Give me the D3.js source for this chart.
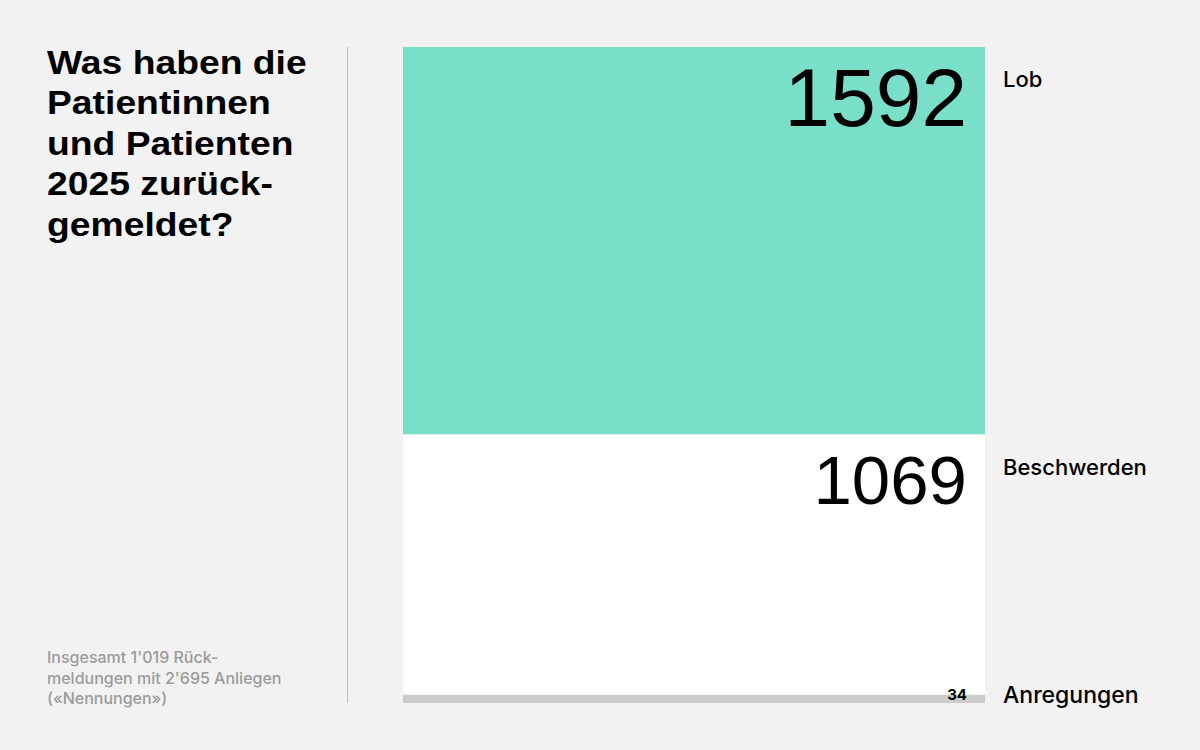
<!DOCTYPE html>
<html>
<head>
<meta charset="utf-8">
<script src="https://cdn.jsdelivr.net/npm/d3@7"></script>
<style>
  body { margin: 0; background: #f2f2f2; }
  svg { display: block; }
</style>
</head>
<body>
<div id="chart"></div>
<script>
// data
const categories = [ 'Lob', 'Beschwerden', 'Anregungen' ];
const values = [ 1592, 1069, 34 ];
const bar_colors = [ '#7adfc9', '#ffffff', '#cccccc' ];
const titleLines = [ 'Was haben die', 'Patientinnen', 'und Patienten', '2025 zurück-', 'gemeldet?' ];
const noteLines = [ 'Insgesamt 1\'019 Rück-', 'meldungen mit 2\'695 Anliegen', '(«Nennungen»)' ];

const figure_width = 1200, figure_height = 750;
const plot = { top: 47, bottom: 703, left: 403, right: 985 };
const textFont = 'Inter, Liberation Sans, Arial, sans-serif';
const numberFont = 'Liberation Sans, Arial, sans-serif';

const svg = d3.select( 'div#chart' )
  .append( 'svg' )
    .attr( 'width', figure_width )
    .attr( 'height', figure_height )
    .style( 'font-family', textFont );

svg.append( 'rect' )
  .attr( 'width', figure_width )
  .attr( 'height', figure_height )
  .attr( 'fill', '#f2f2f2' );

// stack the values
let acc = 0;
const stacked = values.map( function( v, i ) {
  const d = { key: categories[i], value: v, y0: acc, y1: acc + v, color: bar_colors[i] };
  acc += v;
  return d;
});
const total = acc;

const y = d3.scaleLinear()
  .domain( [ 0, total ] )
  .range( [ plot.top, plot.bottom ] );

// title (stretched a bit to mimic the wide grotesk of the original)
svg.append( 'g' )
  .attr( 'transform', 'translate(47,0) scale(1.13,1)' )
  .append( 'text' )
  .attr( 'x', 0 )
  .attr( 'y', 74 )
  .style( 'font-family', numberFont )
  .attr( 'font-size', 33 )
  .attr( 'font-weight', 'bold' )
  .attr( 'fill', '#000' )
  .selectAll( 'tspan' )
  .data( titleLines )
  .enter()
  .append( 'tspan' )
    .attr( 'x', 0 )
    .attr( 'dy', function(d,i){ return i === 0 ? 0 : 40.5 } )
    .text( function(d){ return d } );

// note
svg.append( 'text' )
  .attr( 'x', 47 )
  .attr( 'y', 663 )
  .attr( 'font-size', 16 )
  .attr( 'font-weight', 500 )
  .attr( 'fill', '#9b9b9b' )
  .selectAll( 'tspan' )
  .data( noteLines )
  .enter()
  .append( 'tspan' )
    .attr( 'x', 47 )
    .attr( 'dy', function(d,i){ return i === 0 ? 0 : 20.5 } )
    .text( function(d){ return d } );

// divider
svg.append( 'line' )
  .attr( 'x1', 347.5 ).attr( 'x2', 347.5 )
  .attr( 'y1', plot.top ).attr( 'y2', plot.bottom )
  .attr( 'stroke', '#bdbdbd' )
  .attr( 'stroke-width', 1 );

// segments
svg.append( 'g' )
  .selectAll( 'rect' )
  .data( stacked )
  .enter()
  .append( 'rect' )
    .attr( 'x', plot.left )
    .attr( 'width', plot.right - plot.left )
    .attr( 'y', function(d){ return y( d.y0 ) } )
    .attr( 'height', function(d){ return y( d.y1 ) - y( d.y0 ) } )
    .attr( 'fill', function(d){ return d.color } );

// value labels inside
const valueStyle = [
  { size: 82, offset: 79, weight: 'normal' },
  { size: 69, offset: 69, weight: 'normal' },
  { size: 15, offset: null, weight: 'bold' }
];
svg.append( 'g' )
  .selectAll( 'text' )
  .data( stacked )
  .enter()
  .append( 'text' )
    .attr( 'x', 967 )
    .attr( 'y', function(d,i){
      return valueStyle[i].offset === null ? y( d.y1 ) - 3 : y( d.y0 ) + valueStyle[i].offset } )
    .attr( 'text-anchor', 'end' )
    .style( 'font-family', function(d,i){ return i === 2 ? textFont : numberFont } )
    .attr( 'font-size', function(d,i){ return valueStyle[i].size } )
    .attr( 'font-weight', function(d,i){ return valueStyle[i].weight } )
    .attr( 'fill', '#000' )
    .text( function(d){ return d.value } );

// category labels on the right
svg.append( 'g' )
  .selectAll( 'text' )
  .data( stacked )
  .enter()
  .append( 'text' )
    .attr( 'x', 1003 )
    .attr( 'y', function(d,i){ return i === 2 ? y( d.y1 ) : y( d.y0 ) + 40 } )
    .attr( 'font-size', function(d,i){ return i === 2 ? 23 : 22 } )
    .attr( 'font-weight', 500 )
    .attr( 'fill', '#000' )
    .text( function(d){ return d.key } );
</script>
</body>
</html>
